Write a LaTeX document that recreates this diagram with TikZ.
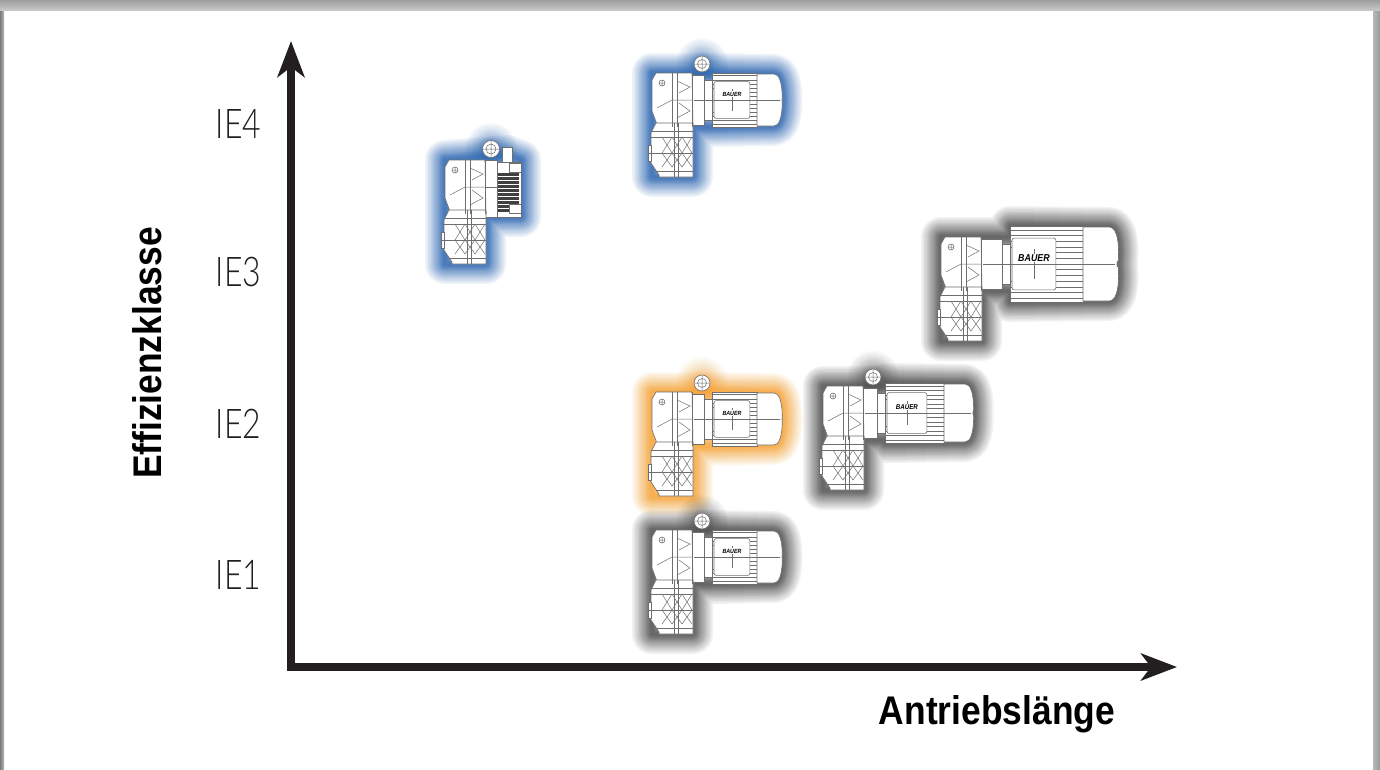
\documentclass[tikz,border=0pt]{standalone}
\usepackage{fontspec}
\usepackage{tikz}
\usetikzlibrary{arrows.meta,positioning}
\setmainfont{Lato}[UprightFont=* Light, FakeStretch=0.78]
\newfontfamily\labelfont[FakeStretch=0.885]{Liberation Sans Bold}
\definecolor{axisblack}{HTML}{231F20}
\definecolor{glowblue}{HTML}{2A66B4}
\definecolor{gloworange}{HTML}{F7A535}
\definecolor{glowgrey}{HTML}{505050}
\definecolor{partline}{HTML}{6E6E6E}
\tikzset{
  axisarr/.style={-{Stealth[length=36pt,width=27pt,inset=10pt]}, line width=7.5pt, draw=axisblack},
  classlabel/.style={font=\fontsize{41}{41}\selectfont, text=axisblack, inner sep=0pt},
  axislabel/.style={font=\fontsize{40}{40}\labelfont, text=black, inner sep=0pt},
  part/.style={draw=partline, line width=0.6pt, fill=white, line join=round},
  detail/.style={draw=partline, line width=0.5pt},
  glowlayer/.style={line join=round, opacity=0.07, line cap=round}
}
\newcommand{\glowwidths}{40,37,34,31,28,26,24,22,20,18,16,14,13,12,11,10,9,8,7,6,5,4,3,2}
% housing and lower gear stage, shared by all units
\newcommand{\gearstage}{
  \draw[part] (0,7) -- (4,0) -- (40,0) -- (41,54) -- (6,54) -- (0,38) -- cycle;
  \draw[part] (4,50) -- (-1,60) -- (-1,90) -- (7,102) -- (7,104) -- (41,104) -- (41,50) -- cycle;
  \draw[part] (-4,72) rectangle (-1,88);
  \draw[detail] (10,10) circle (3pt) (7,10) -- (13,10) (10,7) -- (10,13);
  \foreach \sx in {20,25,40} \draw[detail] (\sx,0) -- (\sx,54);
  \draw[detail] (25,8) -- (38,14) -- (27,20) (25,45) -- (38,38) -- (27,30) (5,35) -- (20,27) -- (40,27);
  \draw[detail] (-1,58) -- (41,58) (-1,64) -- (41,64) (4,98) -- (41,98);
  \foreach \sx in {10,20,30} \draw[detail] (\sx,64) -- (\sx+10,80) -- (\sx,94) (\sx+10,64) -- (\sx,80) -- (\sx+10,94);
  \draw[detail] (-4,80) -- (41,80) (22,50) -- (22,104) (26,50) -- (26,104);
}
\tikzset{
  pics/gearmotor/.style args={#1/#2/#3/#4/#5/#6/#7}{code={
    % #1 glow, #2 flange end, #3 rib end, #4 cap end, #5 half height, #6 eye x, #7 logo size
    \foreach \w in \glowwidths {
      \draw[#1, line width=\w pt, glowlayer] (0,0) -- (#2,0) -- (#2,27-#5) -- (#4-8,27-#5+1)
        to[out=0,in=-90] (#4,27) to[out=90,in=0] (#4-8,27+#5-1) -- (#2,27+#5) -- (#2,54) -- (41,54)
        -- (41,104) -- (0,104) -- cycle;
      \ifnum#6>0 \draw[#1, line width=\w pt, glowlayer, opacity=0.035] (#6,-9) circle (6pt); \fi
    }
    \ifnum#6>0
      \draw[part] (#6,-9) circle (8pt);
      \draw[detail] (#6,-9) circle (4.5pt) (#6-8,-9) -- (#6+8,-9) (#6,-17) -- (#6,-1);
    \fi
    \draw[part] (40,2) rectangle (#2-8,52);
    \draw[part] (#2-8,7) rectangle (#2,47);
    \draw[part] (#2,27-#5) -- (#3,27-#5) -- (#3,27+#5) -- (#2,27+#5) -- cycle;
    \draw[part] (#3,27-#5+1) -- (#4-8,27-#5+1) to[out=0,in=-90] (#4,27)
      to[out=90,in=0] (#4-8,27+#5-1) -- (#3,27+#5-1) -- cycle;
    \foreach \rb in {-0.9,-0.75,-0.6,-0.45,0.45,0.6,0.75,0.9}
      \draw[detail] (#2,27+\rb*#5) -- (#3,27+\rb*#5);
    \foreach \rb in {-0.3,-0.15,0,0.15,0.3}
      \draw[detail] (#2+0.6*#3-0.6*#2,27+\rb*#5) -- (#3,27+\rb*#5);
    \pgfmathsetmacro{\boxw}{23+0.286*(#3-#2)}
    \draw[part, rounded corners=2pt] (#2+2,27-0.68*#5) rectangle (#2+2+\boxw,27+0.68*#5);
    \draw[detail] (42,27) -- (#4-2,27) (#2+2+0.5*\boxw,27-0.4*#5) -- (#2+2+0.5*\boxw,27+0.4*#5);
    \node[font=\fontsize{#7}{#7}\labelfont\itshape, fill=white, inner sep=0.5pt]
      at (#2+2+0.5*\boxw,21) {BAUER};
    \gearstage
  }},
  pics/servounit/.style={code={
    \foreach \w in \glowwidths {
      \draw[#1, line width=\w pt, glowlayer] (0,0) -- (62,-5) -- (76,0) -- (76,57) -- (41,57) -- (41,104) -- (0,104) -- cycle;
      \draw[#1, line width=\w pt, glowlayer, opacity=0.035] (46,-11) circle (6pt);
    }
    \draw[part] (46,-11) circle (8.5pt);
    \draw[detail] (46,-11) circle (5pt) (37,-11) -- (55,-11) (46,-20) -- (46,-2);
    \draw[part] (57,-13) rectangle (67,2);
    \draw[part] (40,0) rectangle (52,57);
    \draw[part] (52,2) rectangle (76,57);
    \fill[black!75] (53,13) rectangle (74,52);
    \foreach \rb in {16,20,...,48} \draw[white, line width=0.9pt] (53,\rb) -- (74,\rb);
    \draw[part] (64,3) rectangle (76,12);
    \draw[part] (64,44) rectangle (76,53);
    \draw[detail] (20,27) -- (52,27);
    \gearstage
  }}
}
\begin{document}
\begin{tikzpicture}[x=1pt,y=-1pt]
  \useasboundingbox (0,0) rectangle (1380,769);
  \fill[white] (0,0) rectangle (1380,769);
  \shade[left color=black!52, right color=black!28] (0,0) rectangle (4,769);
  \shade[left color=black!28, right color=black!40] (1373,0) rectangle (1380,769);
  \shade[top color=black!38, bottom color=black!22] (0,0) rectangle (1380,10);
  % axes
  \coordinate (origin) at (291,670);
  \coordinate (corner) at (287,667);
  \coordinate (ytip) at (291,41);
  \coordinate (xtip) at (1177,667);
  \draw[axisarr] (origin) -- (ytip);
  \draw[axisarr] (corner) -- (xtip);
  \node[classlabel] (ie4) at (238.5,124) {IE4};
  \node[classlabel] (ie3) at (238.5,272) {IE3};
  \node[classlabel] (ie2) at (238.5,424) {IE2};
  \node[classlabel] (ie1) at (238.5,575) {IE1};
  \node[axislabel, rotate=90] (yname) at (147,353) {Effizienzklasse};
  \node[axislabel] (xname) at (997,714) {Antriebslänge};
  % units
  \pic (servo) at (445,160) {servounit=glowblue};
  \foreach \nm/\px/\py/\col/\fe/\re/\ce/\hh/\ey/\ls in {
    topunit/652/73/glowblue/60/105/130/27/50/6,
    orangeunit/652/392/gloworange/60/105/130/27/50/6,
    lowunit/652/530/glowgrey/60/105/130/27/50/6,
    midunit/823/386/glowgrey/62/121/150/30/50/7,
    bigunit/941/237/glowgrey/69/142/176/38/0/10} {
    \pic (\nm) at (\px,\py) {gearmotor={\col/\fe/\re/\ce/\hh/\ey/\ls}};
  }
\end{tikzpicture}
\end{document}
